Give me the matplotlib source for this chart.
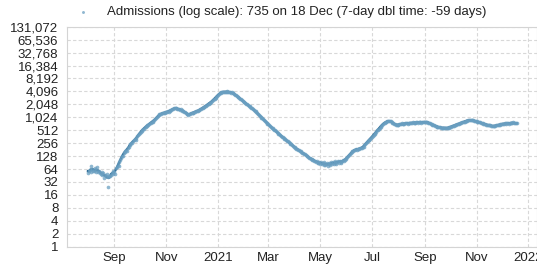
import datetime as dt
import matplotlib
matplotlib.use("Agg")
import matplotlib.pyplot as plt
import pandas as pd
from matplotlib.ticker import FixedLocator, FuncFormatter, NullLocator

plt.rcParams['font.family'] = ['Liberation Sans', 'DejaVu Sans']

# ---- data: daily admissions ----
start_date = dt.date(2020, 8, 1)
aug20 = [52, 58, 61, 56, 74, 63, 59, 57, 66, 55, 60, 72, 54, 58, 52, 49, 56, 47, 51, 40, 46, 44, 48, 42, 25, 45, 43, 47, 52, 58, 50]
sep20 = [56, 48, 66, 72, 80, 76, 92, 104, 118, 131, 128, 150, 158, 172, 181, 168, 196, 214, 233, 241, 262, 252, 280, 305, 318, 296, 338, 372, 398, 415]
oct20 = [432, 470, 498, 521, 548, 560, 596, 618, 640, 668, 690, 712, 735, 760, 788, 812, 850, 880, 925, 970, 1020, 1075, 1130, 1190, 1210, 1245, 1280, 1260, 1300, 1320, 1335]
nov20 = [1350, 1380, 1410, 1395, 1440, 1480, 1510, 1560, 1600, 1640, 1665, 1690, 1650, 1610, 1630, 1580, 1540, 1560, 1500, 1460, 1420, 1380, 1350, 1300, 1250, 1210, 1170, 1190, 1230, 1260]
dec20 = [1280, 1300, 1320, 1350, 1380, 1400, 1420, 1450, 1480, 1510, 1560, 1600, 1650, 1700, 1750, 1800, 1860, 1920, 1990, 2050, 2120, 2180, 2260, 2350, 2440, 2560, 2680, 2800, 2950, 3100, 3250]
jan21 = [3400, 3550, 3700, 3820, 3900, 3980, 4030, 4060, 4010, 3950, 4050, 4080, 4020, 3970, 3900, 3850, 3920, 3800, 3700, 3560, 3420, 3300, 3200, 3100, 2980, 2860, 2760, 2660, 2560, 2470, 2380]
feb21 = [2300, 2220, 2140, 2060, 1980, 1910, 1850, 1780, 1710, 1650, 1580, 1520, 1460, 1400, 1340, 1280, 1220, 1160, 1110, 1060, 1010, 960, 920, 880, 840, 800, 760, 730]
mar21 = [700, 670, 640, 615, 590, 565, 545, 525, 505, 485, 465, 445, 425, 410, 395, 380, 365, 350, 340, 325, 312, 300, 290, 280, 270, 260, 250, 240, 230, 222, 214]
apr21 = [206, 198, 192, 186, 180, 175, 169, 164, 158, 154, 150, 146, 142, 136, 130, 126, 122, 118, 114, 110, 106, 112, 104, 100, 97, 94, 98, 90, 88, 92]
may21 = [86, 95, 82, 88, 80, 92, 78, 84, 90, 76, 82, 88, 79, 91, 85, 94, 83, 89, 96, 86, 92, 98, 90, 101, 95, 88, 99, 104, 97, 106, 110]
jun21 = [114, 120, 126, 134, 142, 150, 158, 165, 172, 176, 180, 184, 182, 186, 190, 188, 193, 196, 200, 206, 214, 226, 240, 255, 268, 282, 296, 310, 326, 342]
jul21 = [360, 380, 400, 425, 450, 478, 505, 530, 560, 590, 620, 655, 690, 720, 745, 770, 790, 810, 830, 845, 850, 835, 820, 800, 770, 740, 715, 700, 690, 680, 675]
aug21 = [690, 710, 700, 720, 735, 715, 700, 725, 745, 760, 740, 725, 750, 770, 755, 740, 760, 780, 765, 750, 770, 790, 775, 760, 780, 800, 785, 770, 790, 805, 790]
sep21 = [780, 795, 810, 790, 770, 760, 745, 720, 700, 690, 675, 660, 650, 640, 625, 615, 605, 600, 595, 585, 590, 580, 575, 590, 580, 570, 585, 575, 590, 600]
oct21 = [610, 620, 630, 645, 655, 665, 680, 690, 700, 715, 725, 740, 750, 760, 775, 790, 805, 815, 830, 845, 860, 875, 885, 870, 890, 880, 865, 870, 850, 840, 830]
nov21 = [820, 790, 780, 790, 775, 760, 745, 735, 725, 715, 705, 695, 690, 680, 670, 665, 660, 650, 645, 640, 645, 640, 650, 660, 670, 680, 675, 690, 700, 710]
dec21 = [720, 730, 715, 740, 735, 725, 750, 745, 730, 760, 745, 770, 755, 775, 760, 750, 745, 735]

admissions = (aug20 + sep20 + oct20 + nov20 + dec20 + jan21 + feb21 + mar21 + apr21
              + may21 + jun21 + jul21 + aug21 + sep21 + oct21 + nov21 + dec21)
dates = pd.to_datetime([start_date + dt.timedelta(days=i) for i in range(len(admissions))])
series = pd.Series(admissions, index=dates)
smooth = series.rolling(5, center=True, min_periods=1).mean()

y_ticks = [2 ** i for i in range(18)]
x_ticks = [dt.date(2020, 9, 1), dt.date(2020, 11, 1), dt.date(2021, 1, 1), dt.date(2021, 3, 1),
           dt.date(2021, 5, 1), dt.date(2021, 7, 1), dt.date(2021, 9, 1), dt.date(2021, 11, 1),
           dt.date(2022, 1, 1)]
x_labels = ["Sep", "Nov", "2021", "Mar", "May", "Jul", "Sep", "Nov", "2022"]
legend_label = "Admissions (log scale): 735 on 18 Dec (7-day dbl time: -59 days)"

# ---- figure ----
W, H = 537, 265
fig = plt.figure(figsize=(W / 100, H / 100), dpi=100)
left, right, top, bottom = 66.7, 537, 26.7, 246.7
ax = fig.add_axes([left / W, 1 - bottom / H, (right - left) / W, (bottom - top) / H])

ax.plot(smooth.index, smooth.values, color="#296892", linewidth=1.7, zorder=3)
sc = ax.scatter(series.index, series.values, s=7, color="#6a9fc1", alpha=0.75,
                linewidths=0, zorder=4, label=legend_label)

ax.set_yscale("log", base=2)
ax.set_ylim(1, 131072)
ax.yaxis.set_major_locator(FixedLocator(y_ticks))
ax.yaxis.set_minor_locator(NullLocator())
ax.yaxis.set_major_formatter(FuncFormatter(lambda v, p: f"{int(round(v)):,}"))

ax.set_xlim(dt.date(2020, 7, 7), dt.date(2022, 1, 11))
ax.set_xticks(x_ticks)
ax.set_xticklabels(x_labels)

ax.grid(True, which="major", color="#d8d8d8", linestyle=(0, (3, 2)), linewidth=0.8, zorder=0)
ax.set_axisbelow(True)
for s in ax.spines.values():
    s.set_color("#d4d4d4")
    s.set_linewidth(0.8)

ax.tick_params(axis="both", length=0, labelsize=9.5, colors="#222222")
ax.tick_params(axis="y", pad=6)
ax.tick_params(axis="x", pad=4)

fig.legend(handles=[sc], labels=[legend_label], loc="center",
           bbox_to_anchor=(278 / W, 1 - 12 / H), frameon=False, fontsize=9.5,
           handletextpad=0.8, markerscale=0.8, labelcolor="#222222")

fig.savefig("out.png", dpi=100)
